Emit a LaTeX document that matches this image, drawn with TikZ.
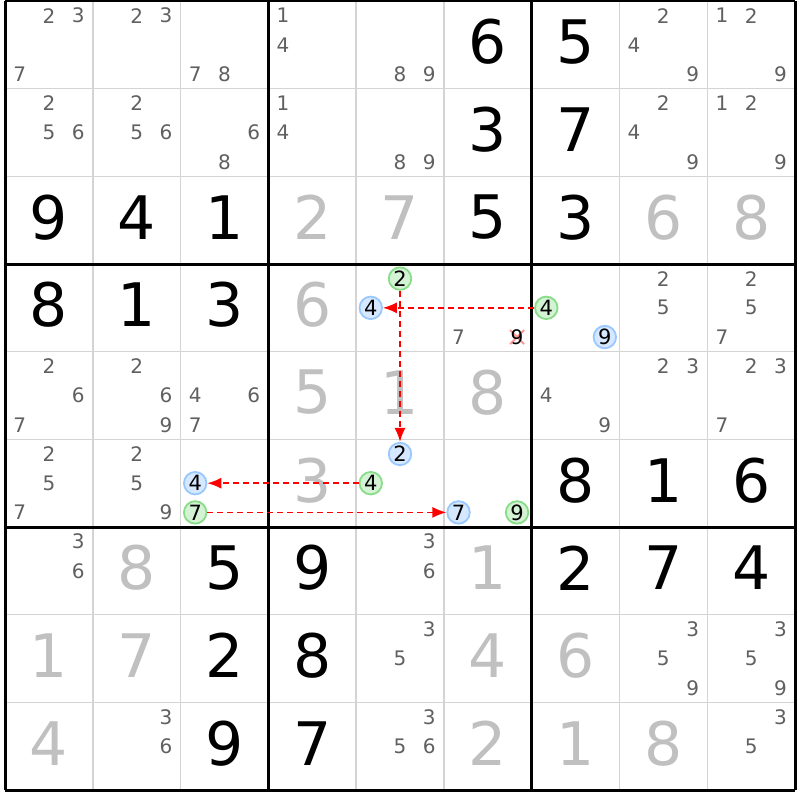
\documentclass[tikz,border=0pt]{standalone}
\usepackage{fontspec}
\setmainfont{DejaVu Sans}
\usetikzlibrary{arrows.meta}
\definecolor{candc}{HTML}{606060}
\definecolor{solvedc}{HTML}{C0C0C0}
\definecolor{thinc}{HTML}{D4D4D4}
\definecolor{bluefill}{HTML}{D6E8FF}
\definecolor{blueline}{HTML}{99C8FF}
\definecolor{greenfill}{HTML}{D4F2D4}
\definecolor{greenline}{HTML}{88DD88}
\definecolor{crossc}{HTML}{FF9494}
\definecolor{linkred}{HTML}{FF0000}
\begin{document}
\begin{tikzpicture}[x=1pt,y=-1pt,
  givendigit/.style={font=\fontsize{60}{60}\selectfont, text=black, inner sep=0pt},
  solveddigit/.style={font=\fontsize{60}{60}\selectfont, text=solvedc, inner sep=0pt},
  canddigit/.style={font=\fontsize{20}{20}\selectfont, text=candc, inner sep=0pt},
  blueC/.style={circle, draw=blueline, fill=bluefill, line width=1.8pt, minimum size=22.5pt, inner sep=0pt, font=\fontsize{21}{21}\selectfont, text=black},
  greenC/.style={circle, draw=greenline, fill=greenfill, line width=1.8pt, minimum size=22.5pt, inner sep=0pt, font=\fontsize{21}{21}\selectfont, text=black},
  thinline/.style={thinc, line width=1.5pt},
  thickline/.style={black, line width=3pt},
  link/.style={draw=linkred, line width=1.5pt, dash pattern=on 6pt off 4pt, -{Latex[length=14pt,width=11pt,fill=linkred]}},
  crossline/.style={crossc, line width=2pt}
]
\useasboundingbox (0,0) rectangle (800,800);
\fill[white] (0,0) rectangle (800,800);
% thin grid lines
\foreach \i in {1,2,4,5,7,8} {
  \draw[thinline] ({5+\i*87.78},1) -- ({5+\i*87.78},790);
  \draw[thinline] (5,{1+\i*87.67}) -- (795,{1+\i*87.67});
}
% thick grid lines
\foreach \i in {0,3,6,9} {
  \draw[thickline] ({5+\i*87.78},1) -- ({5+\i*87.78},790);
  \draw[thickline] (5,{1+\i*87.67}) -- (795,{1+\i*87.67});
}
% given digits
\foreach \r/\c/\d in {0/5/6,0/6/5,1/5/3,1/6/7,2/0/9,2/1/4,2/2/1,2/5/5,2/6/3,3/0/8,3/1/1,3/2/3,5/6/8,5/7/1,5/8/6,6/2/5,6/3/9,6/6/2,6/7/7,6/8/4,7/2/2,7/3/8,8/2/9,8/3/7} {
  \pgfmathsetmacro{\x}{5+(\c+0.5)*87.78}
  \pgfmathsetmacro{\y}{1+(\r+0.5)*87.67-3}
  \node[givendigit] (g\r\c) at (\x,\y) {\d};
}
% solved digits
\foreach \r/\c/\d in {2/3/2,2/4/7,2/7/6,2/8/8,3/3/6,4/3/5,4/4/1,4/5/8,5/3/3,6/1/8,6/5/1,7/0/1,7/1/7,7/5/4,7/6/6,8/0/4,8/5/2,8/6/1,8/7/8} {
  \pgfmathsetmacro{\x}{5+(\c+0.5)*87.78}
  \pgfmathsetmacro{\y}{1+(\r+0.5)*87.67-3}
  \node[solveddigit] (s\r\c) at (\x,\y) {\d};
}
% candidates
\foreach \r/\c/\d in {0/0/2,0/0/3,0/0/7,0/1/2,0/1/3,0/2/7,0/2/8,0/3/1,0/3/4,0/4/8,0/4/9,0/7/2,0/7/4,0/7/9,0/8/1,0/8/2,0/8/9,
  1/0/2,1/0/5,1/0/6,1/1/2,1/1/5,1/1/6,1/2/6,1/2/8,1/3/1,1/3/4,1/4/8,1/4/9,1/7/2,1/7/4,1/7/9,1/8/1,1/8/2,1/8/9,
  3/5/7,3/7/2,3/7/5,3/8/2,3/8/5,3/8/7,
  4/0/2,4/0/6,4/0/7,4/1/2,4/1/6,4/1/9,4/2/4,4/2/6,4/2/7,4/6/4,4/6/9,4/7/2,4/7/3,4/8/2,4/8/3,4/8/7,
  5/0/2,5/0/5,5/0/7,5/1/2,5/1/5,5/1/9,
  6/0/3,6/0/6,6/4/3,6/4/6,
  7/4/3,7/4/5,7/7/3,7/7/5,7/7/9,7/8/3,7/8/5,7/8/9,
  8/1/3,8/1/6,8/4/3,8/4/5,8/4/6,8/8/3,8/8/5} {
  \pgfmathsetmacro{\x}{5+\c*87.78+(mod(\d-1,3)+0.5)*29.26}
  \pgfmathsetmacro{\y}{1+\r*87.67+(floor((\d-1)/3)+0.5)*29.22}
  \node[canddigit] (c\r\c\d) at (\x,\y) {\d};
}
% eliminated candidate with cross
\draw[crossline] (517.1,337.1) +(-7,-7) -- +(7,7);
\draw[crossline] (517.1,337.1) +(-7,7) -- +(7,-7);
\node[canddigit, text=black] (x359) at (517.1,337.1) {9};
% highlighted candidates
\foreach \r/\c/\d in {3/4/4,3/6/9,5/2/4,5/4/2,5/5/7} {
  \pgfmathsetmacro{\x}{5+\c*87.78+(mod(\d-1,3)+0.5)*29.26}
  \pgfmathsetmacro{\y}{1+\r*87.67+(floor((\d-1)/3)+0.5)*29.22}
  \node[blueC] (b\r\c\d) at (\x,\y) {\d};
}
\foreach \r/\c/\d in {3/4/2,3/6/4,5/2/7,5/4/4,5/5/9} {
  \pgfmathsetmacro{\x}{5+\c*87.78+(mod(\d-1,3)+0.5)*29.26}
  \pgfmathsetmacro{\y}{1+\r*87.67+(floor((\d-1)/3)+0.5)*29.22}
  \node[greenC] (n\r\c\d) at (\x,\y) {\d};
}
% links
\draw[link] (n364) -- (b344);
\draw[link] (n342) -- (b542);
\draw[link] (n544) -- (b524);
\draw[link] (n527) -- (b557);
\end{tikzpicture}
\end{document}
